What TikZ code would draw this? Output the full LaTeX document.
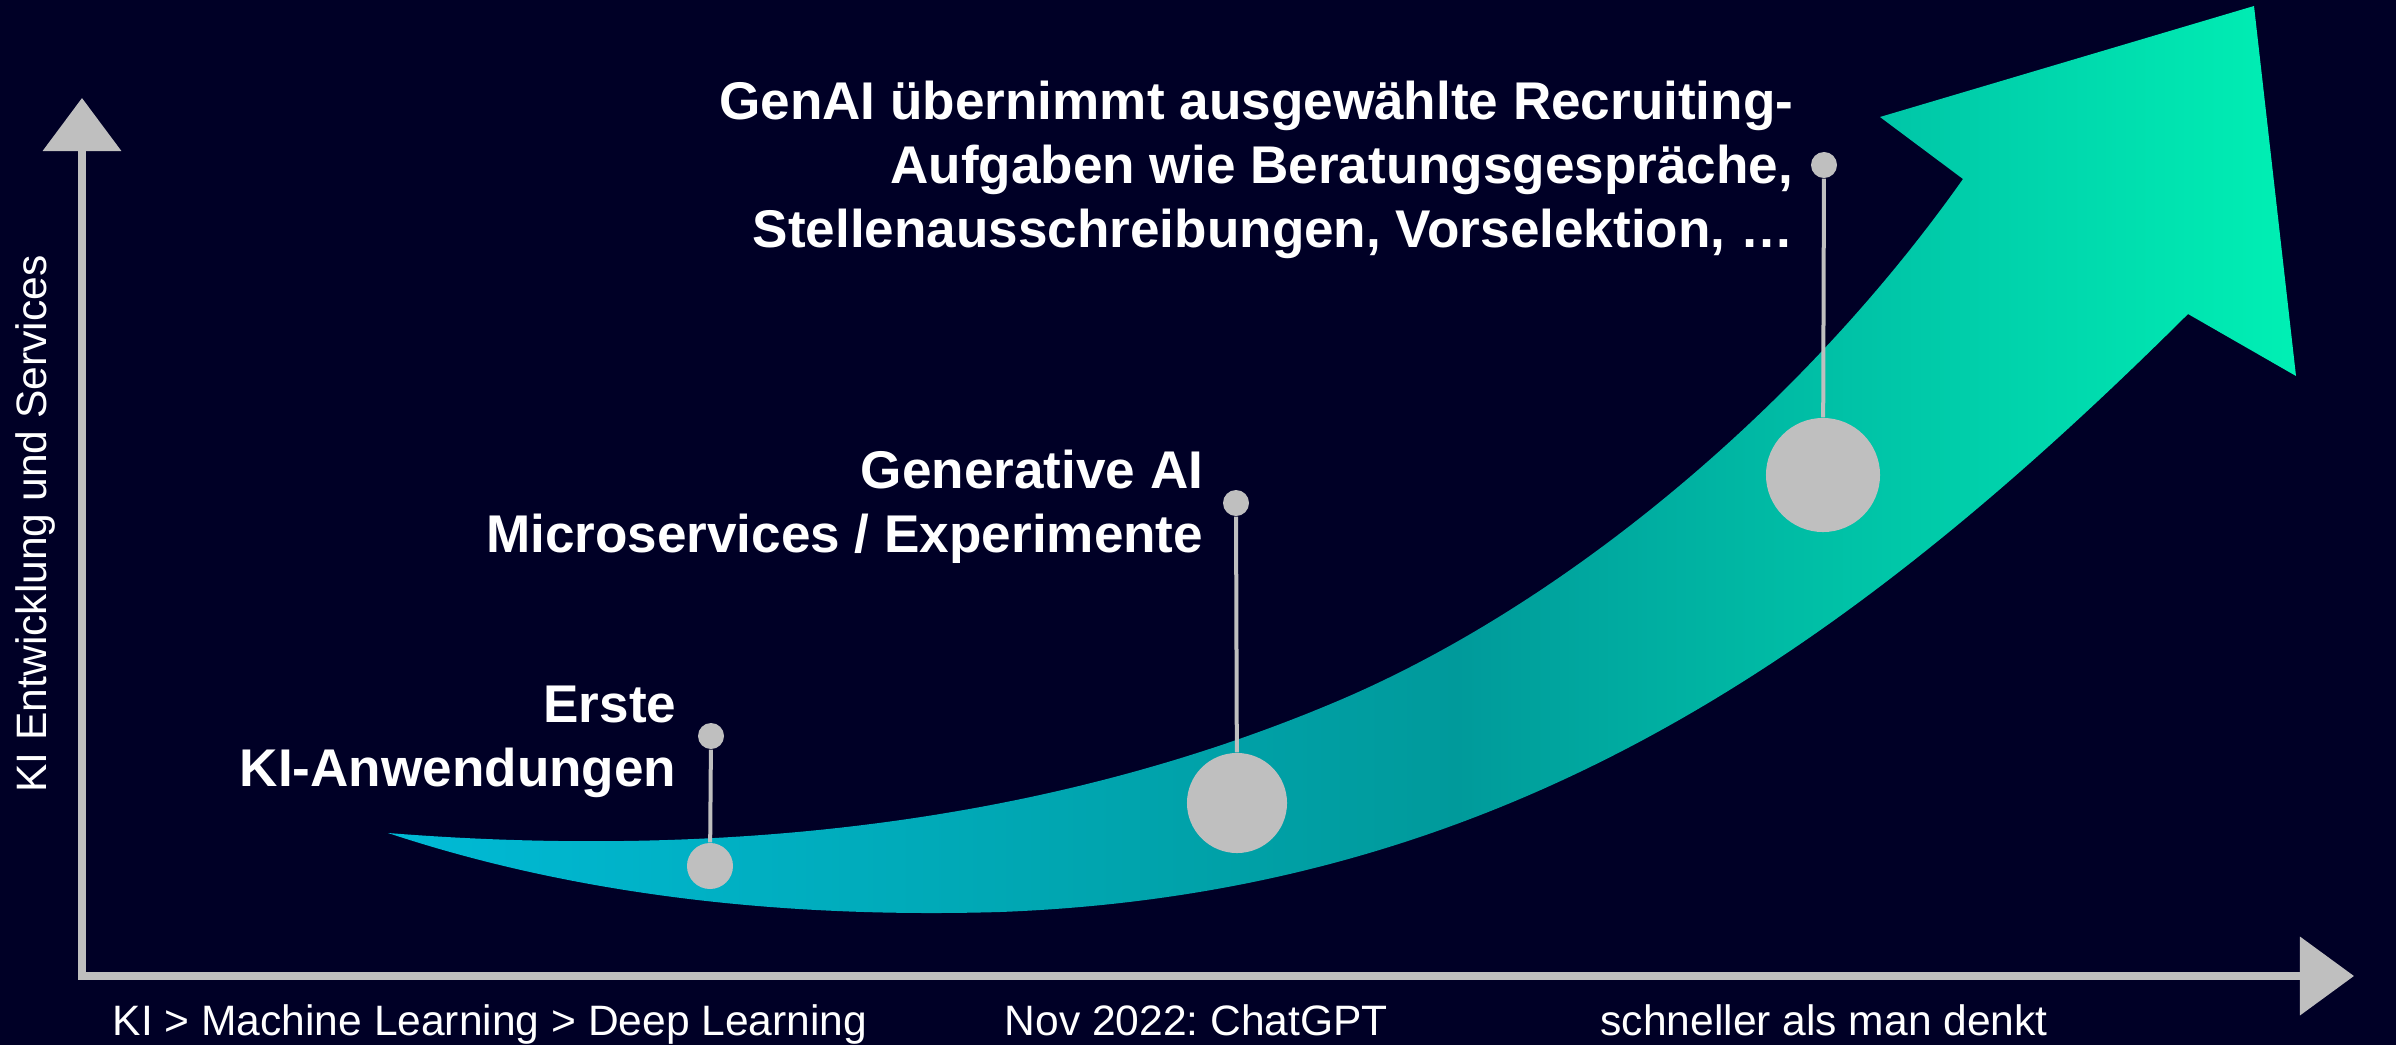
\documentclass[tikz,border=0pt]{standalone}
\usepackage{fontspec}
\setmainfont{Liberation Sans}
\usetikzlibrary{arrows.meta}
\frenchspacing

\definecolor{bgnavy}{RGB}{0,0,38}
\definecolor{axisgray}{RGB}{191,191,191}
\definecolor{arrowcyan}{RGB}{0,186,214}
\definecolor{arrowteal}{RGB}{0,154,155}
\definecolor{arrowmint}{RGB}{0,240,180}

\pgfdeclarehorizontalshading{growth}{100bp}{color(0bp)=(arrowcyan); color(25bp)=(arrowcyan); color(53bp)=(arrowteal); color(75bp)=(arrowmint); color(100bp)=(arrowmint)}

\tikzset{
  axistext/.style={text=white, font=\fontsize{12.1pt}{14pt}\selectfont, inner sep=0pt},
  milestone/.style={text=white, font=\fontsize{15.1pt}{18.2pt}\selectfont\bfseries, align=right, inner sep=0pt},
  knob/.style={circle, fill=axisgray, inner sep=0pt, minimum size=0.26cm},
  bubble/.style={circle, fill=axisgray, inner sep=0pt},
  stalk/.style={axisgray, line width=0.04cm},
}

\begin{document}
\begin{tikzpicture}[x=0.01cm, y=-0.01cm]

  \fill[bgnavy] (0,0) rectangle (2396,1045);
  \useasboundingbox (0,0) rectangle (2396,1045);

  % axes
  \coordinate (O) at (82,976);
  \coordinate (ytop) at (82,98);
  \coordinate (xend) at (2354,976);
  \draw[axisgray, line width=0.075cm, {Triangle[length=0.53cm,width=0.77cm]}-{Triangle[length=0.54cm,width=0.77cm]}] (ytop) -- (O) -- (xend);

  % growth arrow
  \shade[shading=growth] (388,833) .. controls (703,858) and (1033,829) .. (1333,703)
    .. controls (1560,608) and (1800,410) .. (1963,179)
    -- (1880,117) -- (2254,6) -- (2296,376) -- (2188,314)
    .. controls (1840,660) and (1500,893) .. (1000,912)
    .. controls (794,918) and (584,898) .. (388,833) -- cycle;

  % milestones
  \node[knob] (k1) at (711,736) {};
  \node[bubble, minimum size=0.46cm] (b1) at (710,866) {};
  \draw[stalk] (k1) -- (b1);
  %
  \node[knob] (k2) at (1236,503) {};
  \node[bubble, minimum size=1cm] (b2) at (1237,803) {};
  \draw[stalk] (k2) -- (b2);
  %
  \node[knob] (k3) at (1824,165) {};
  \node[bubble, minimum size=1.14cm] (b3) at (1823,475) {};
  \draw[stalk] (k3) -- (b3);

  % labels (anchor on the last line)
  \node[milestone, anchor=base east] (t1) at (677,786) {Erste\\KI-Anwendungen};
  \node[milestone, anchor=base east] (t2) at (1204,552) {Generative AI\\Microservices / Experimente};
  \node[milestone, anchor=base east] (t3) at (1794,247) {GenAI übernimmt ausgewählte Recruiting-\\Aufgaben wie Beratungsgespräche,\\Stellenausschreibungen, Vorselektion, …};

  % axis texts
  \node[axistext, rotate=90, anchor=base] (ylab) at (46,524) {KI Entwicklung und Services};
  \node[axistext, anchor=base west] (x1) at (112,1035) {KI > Machine Learning > Deep Learning};
  \node[axistext, anchor=base west] (x2) at (1004,1035) {Nov 2022: ChatGPT};
  \node[axistext, anchor=base west] (x3) at (1600,1035) {schneller als man denkt};

\end{tikzpicture}
\end{document}
